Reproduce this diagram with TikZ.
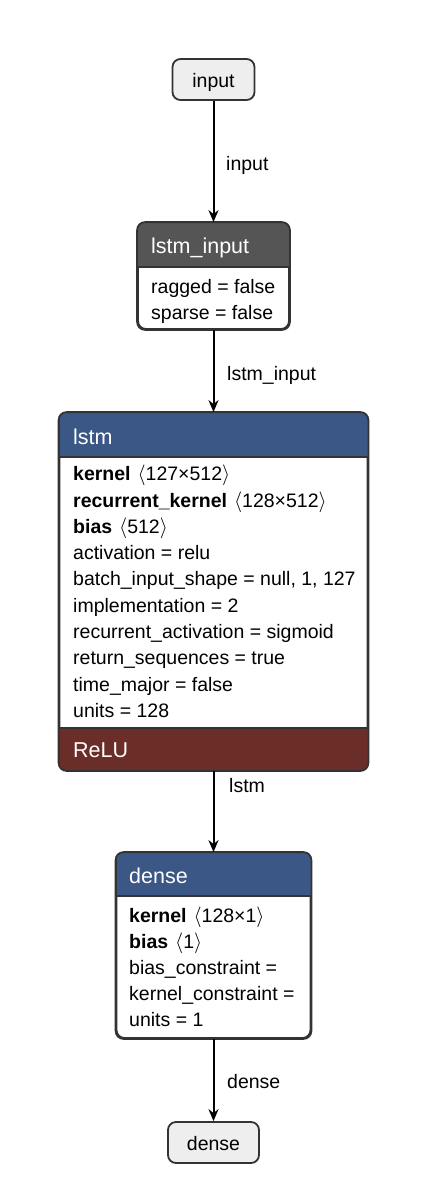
\documentclass[tikz,border=0pt]{standalone}
\usepackage{fontspec}
\setmainfont{Liberation Sans}
\usetikzlibrary{arrows.meta}
\definecolor{layerblue}{RGB}{58,87,133}
\definecolor{actred}{RGB}{107,45,39}
\definecolor{datagray}{RGB}{85,85,85}
\definecolor{iofill}{RGB}{238,238,238}
\definecolor{bord}{RGB}{51,51,51}
\newcommand{\fs}{\fontsize{19.5}{23}\selectfont}
\newcommand{\fh}{\fontsize{21.5}{25}\selectfont}
\newcommand{\shp}[1]{\hspace{7pt}$\langle$#1$\rangle$}
\begin{document}
\begin{tikzpicture}[x=1pt,y=-1pt,
  box/.style={draw=bord,line width=1.8pt,rounded corners=8pt,inner sep=0pt,fill=white},
  io/.style={box,fill=iofill,font=\fs,text height=17pt,text depth=1.5pt},
  txt/.style={anchor=west,inner sep=0pt,text height=17pt,text depth=1.5pt,font=\fs},
  hdr/.style={txt,text=white,font=\fh,text height=18.5pt,text depth=1.5pt},
  edge/.style={draw=black,line width=2pt,-{Stealth[length=12pt,width=10pt,inset=4pt]}},
  sep/.style={draw=bord,line width=1.6pt},
  border/.style={draw=bord,line width=1.8pt,rounded corners=8pt}]
\fill[white] (0,0) rectangle (436,1204);
\useasboundingbox (0,0) rectangle (436,1204);

% graph input
\node[io,minimum width=82pt,minimum height=41pt] (in) at (213.5,79.5) {input};

% lstm_input
\node[box,minimum width=151pt,minimum height=106pt] (li) at (213.5,276) {};
\begin{scope}
\clip[rounded corners=8pt] (li.north west) rectangle (li.south east);
\fill[datagray] (138,223) rectangle (289,267);
\end{scope}
\draw[sep] (138,267) -- (289,267);
\draw[border] (li.north west) rectangle (li.south east);
\node[hdr] (lih) at (151,245) {lstm\_input};
\node[txt] (lia) at (151,286) {ragged = false};
\node[txt] (lib) at (151,312) {sparse = false};

% lstm
\node[box,minimum width=308pt,minimum height=357pt] (ls) at (213.5,591.5) {};
\begin{scope}
\clip[rounded corners=8pt] (ls.north west) rectangle (ls.south east);
\fill[layerblue] (60,413) rectangle (368,457);
\fill[actred] (60,728) rectangle (368,770);
\end{scope}
\draw[sep] (60,457) -- (368,457);
\draw[sep] (60,728) -- (368,728);
\draw[border] (ls.north west) rectangle (ls.south east);
\node[hdr] (lsh) at (73,436) {lstm};
\node[txt] (ls1) at (73,473) {\textbf{kernel}\shp{127×512}};
\node[txt] (ls2) at (73,499.3) {\textbf{recurrent\_kernel}\shp{128×512}};
\node[txt] (ls3) at (73,525.6) {\textbf{bias}\shp{512}};
\node[txt] (ls4) at (73,551.9) {activation = relu};
\node[txt] (ls5) at (73,578.2) {batch\_input\_shape = null, 1, 127};
\node[txt] (ls6) at (73,604.5) {implementation = 2};
\node[txt] (ls7) at (73,630.8) {recurrent\_activation = sigmoid};
\node[txt] (ls8) at (73,657.1) {return\_sequences = true};
\node[txt] (ls9) at (73,683.4) {time\_major = false};
\node[txt] (ls10) at (73,709.7) {units = 128};
\node[hdr] (lsf) at (73,749) {ReLU};

% dense
\node[box,minimum width=194pt,minimum height=185pt] (de) at (213.5,945.5) {};
\begin{scope}
\clip[rounded corners=8pt] (de.north west) rectangle (de.south east);
\fill[layerblue] (117,853) rectangle (311,896);
\end{scope}
\draw[sep] (117,896) -- (311,896);
\draw[border] (de.north west) rectangle (de.south east);
\node[hdr] (deh) at (129,875) {dense};
\node[txt] (de1) at (129,915) {\textbf{kernel}\shp{128×1}};
\node[txt] (de2) at (129,941) {\textbf{bias}\shp{1}};
\node[txt] (de3) at (129,967) {bias\_constraint =};
\node[txt] (de4) at (129,993) {kernel\_constraint =};
\node[txt] (de5) at (129,1019) {units = 1};

% graph output
\node[io,minimum width=91pt,minimum height=41pt] (out) at (213.5,1142.5) {dense};

% edges
\draw[edge] (in.south) -- (li.north);
\draw[edge] (li.south) -- (ls.north);
\draw[edge] (ls.south) -- (de.north);
\draw[edge] (de.south) -- (out.north);

% edge labels
\node[txt] (e1) at (226,163) {input};
\node[txt] (e2) at (227,373) {lstm\_input};
\node[txt] (e3) at (229,785) {lstm};
\node[txt] (e4) at (227,1081) {dense};
\end{tikzpicture}
\end{document}
